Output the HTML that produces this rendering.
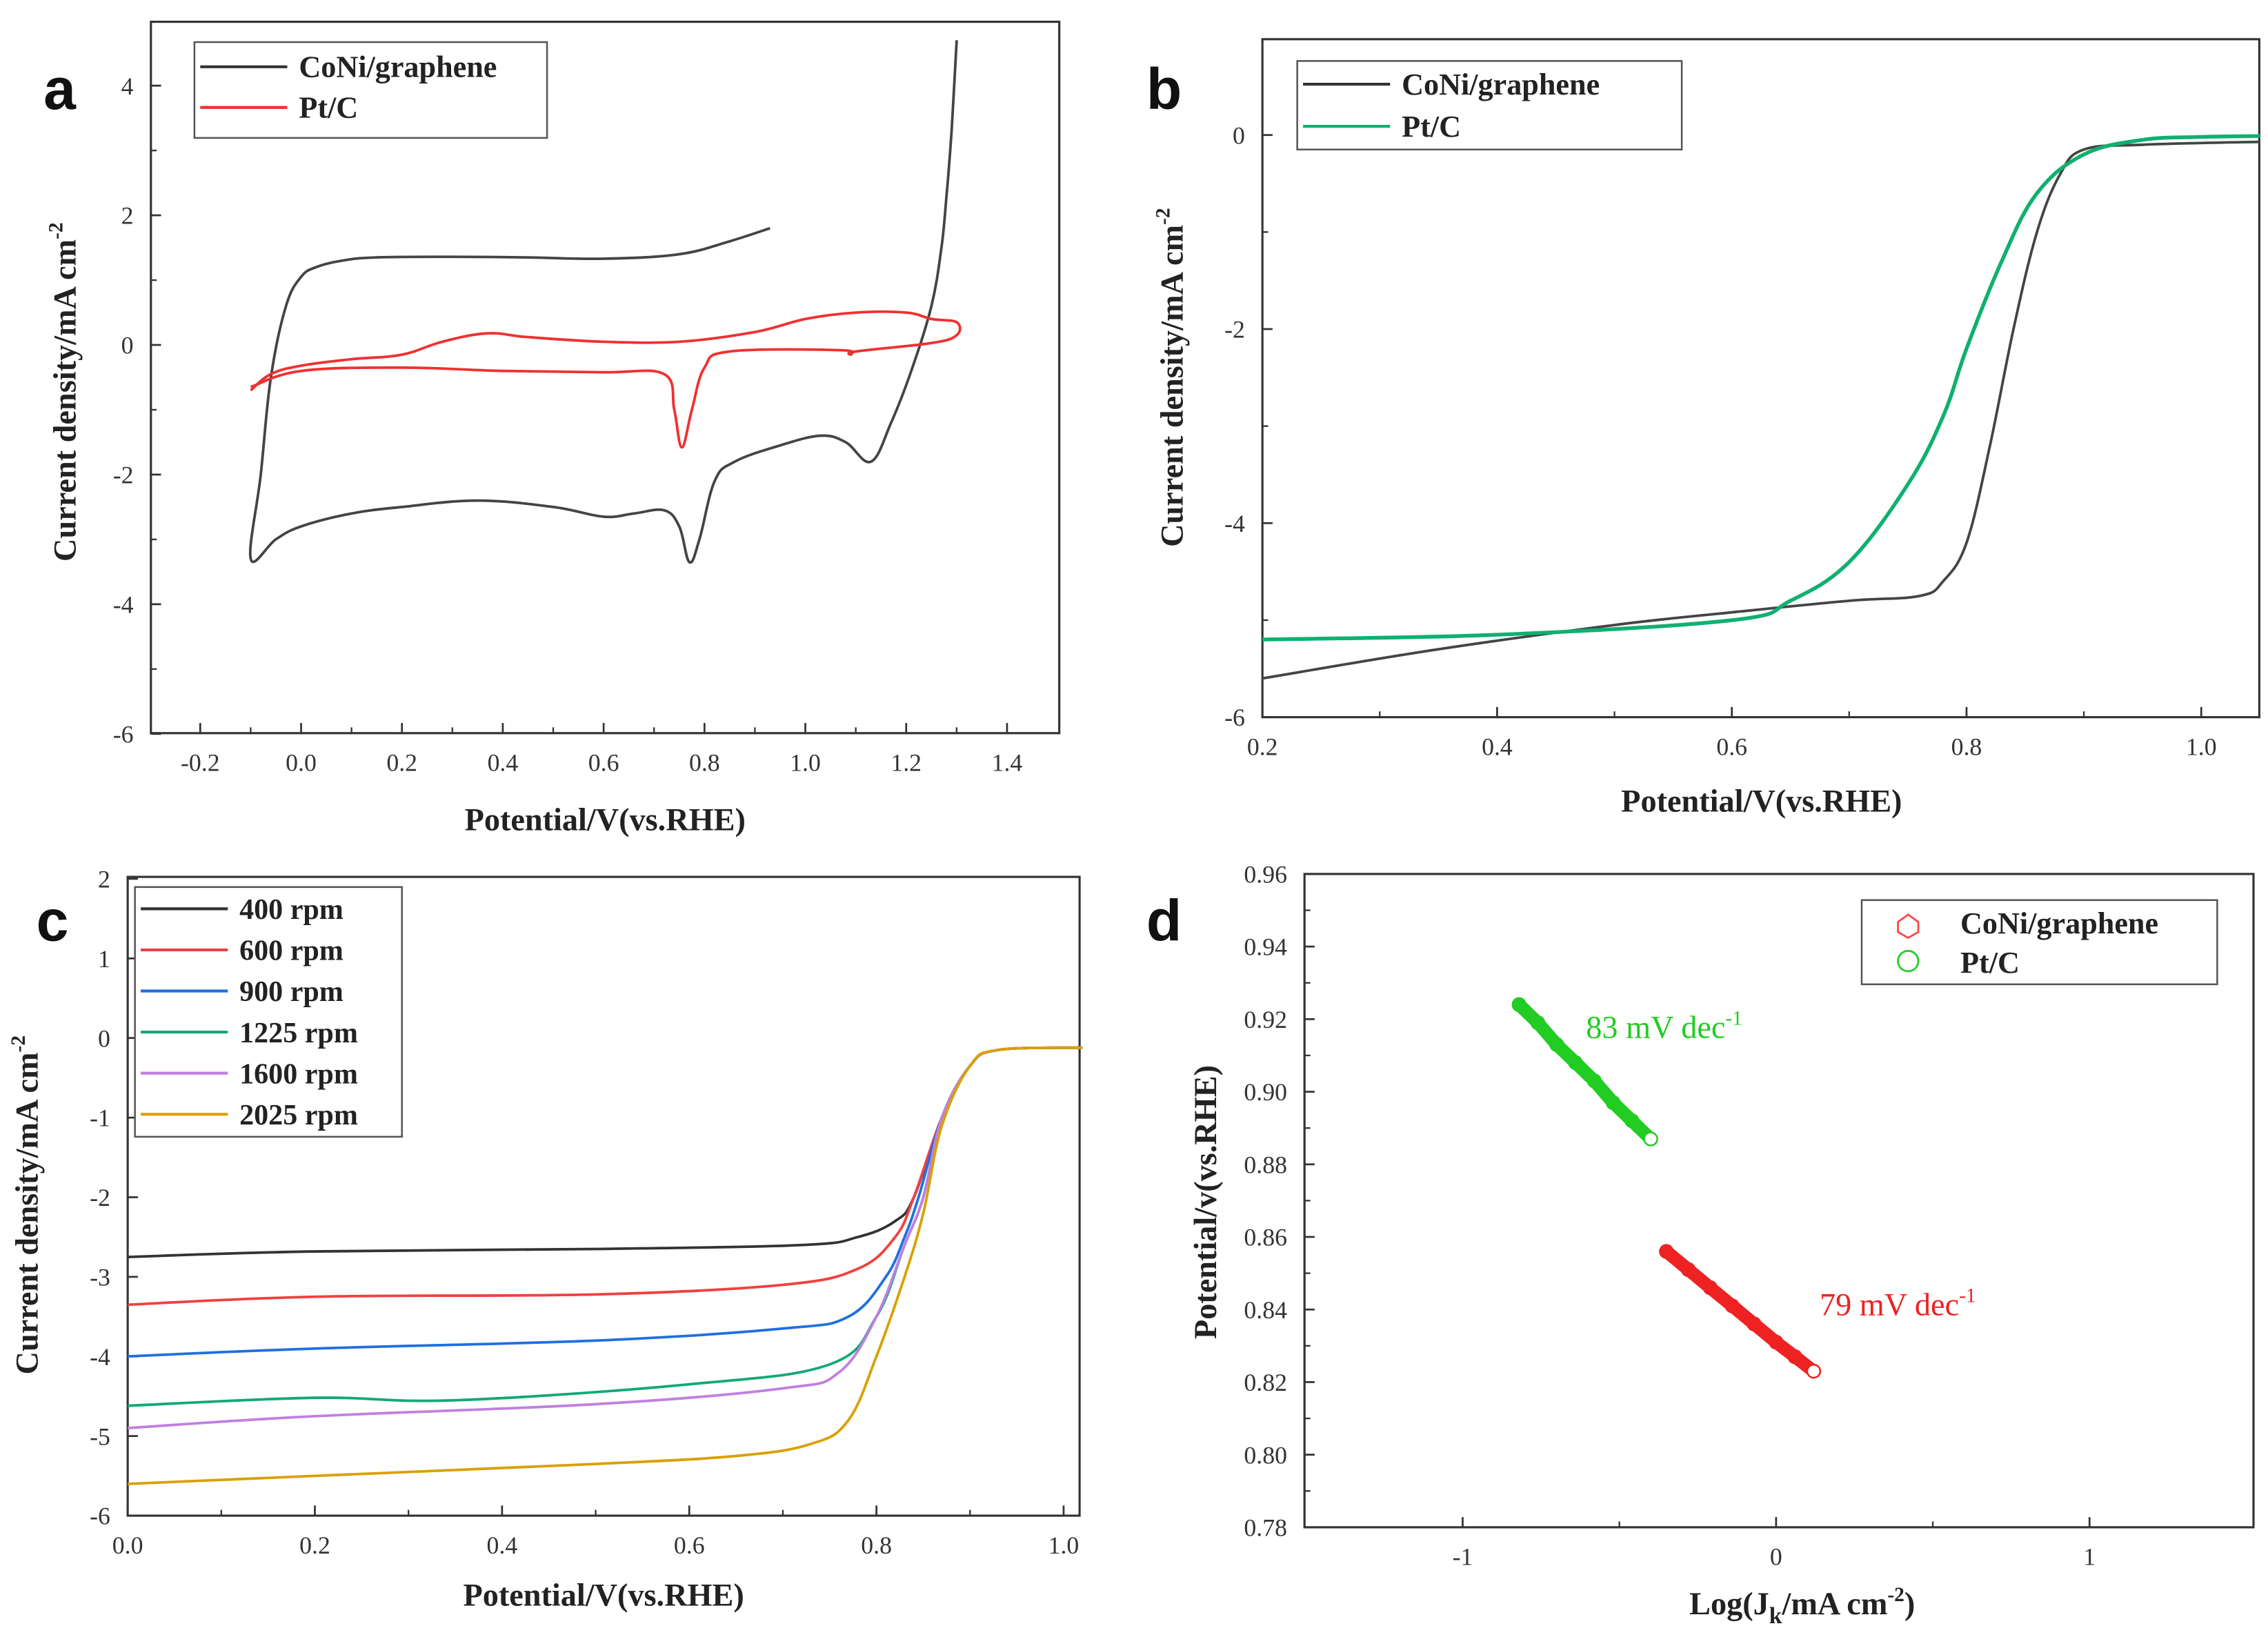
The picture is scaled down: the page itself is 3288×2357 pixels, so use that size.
<!DOCTYPE html>
<html><head><meta charset="utf-8"><style>
html,body{margin:0;padding:0;background:#fff;}
svg{display:block;}
text{font-family:"Liberation Serif",serif;}
</style></head><body>
<svg id="fig" width="3288" height="2357" viewBox="0 0 1563 1120" preserveAspectRatio="none" xmlns="http://www.w3.org/2000/svg"></svg>
<script>
// ---- Panel a data (CV) ----
const aConiX=[0.93,0.85,0.75,0.6,0.45,0.3,0.15,0.08,0.03,0.0,-0.03,-0.06,-0.08,-0.1,-0.05,0.0,0.1,0.2,0.35,0.5,0.6,0.66,0.72,0.75,0.77,0.79,0.82,0.86,0.95,1.03,1.08,1.13,1.17,1.21,1.25,1.27,1.28,1.29,1.3];
const aConiY=[1.8,1.6,1.4,1.33,1.35,1.36,1.35,1.3,1.2,1.05,0.6,-0.5,-2.0,-3.3,-3.0,-2.8,-2.6,-2.5,-2.4,-2.5,-2.65,-2.6,-2.55,-2.8,-3.35,-3.0,-2.1,-1.8,-1.55,-1.4,-1.5,-1.8,-1.2,-0.4,0.6,1.5,2.3,3.3,4.7];
const aPtX=[-0.1,-0.06,0.0,0.1,0.2,0.28,0.37,0.45,0.6,0.75,0.9,1.0,1.1,1.2,1.25,1.3,1.3,1.25,1.1,1.09,1.07,0.85,0.8,0.775,0.755,0.74,0.72,0.6,0.4,0.2,0.0,-0.1];
const aPtY=[-0.7,-0.45,-0.32,-0.22,-0.15,0.05,0.18,0.12,0.05,0.05,0.2,0.4,0.5,0.5,0.4,0.35,0.15,0.03,-0.1,-0.15,-0.08,-0.1,-0.35,-1.0,-1.58,-1.0,-0.45,-0.42,-0.4,-0.35,-0.4,-0.65];
const aXTicks=["-0.2","0.0","0.2","0.4","0.6","0.8","1.0","1.2","1.4"];
const aYTicks=["-6","-4","-2","0","2","4"];
// ---- Panel b data (LSV) ----
const bConiX=[0.2,0.35,0.5,0.6,0.7,0.76,0.78,0.8,0.82,0.84,0.86,0.88,0.9,0.95,1.05];
const bConiY=[-5.6,-5.3,-5.05,-4.92,-4.8,-4.75,-4.6,-4.2,-3.2,-2.0,-1.0,-0.4,-0.15,-0.1,-0.07];
const bPtX=[0.2,0.4,0.6,0.65,0.7,0.75,0.78,0.8,0.83,0.86,0.9,0.95,1.0,1.05];
const bPtY=[-5.2,-5.15,-5.0,-4.8,-4.4,-3.6,-2.9,-2.2,-1.3,-0.6,-0.2,-0.05,-0.02,-0.01];
const bXTicks=["0.2","0.4","0.6","0.8","1.0"];
const bYTicks=["-6","-4","-2","0"];
// ---- Panel c data (rpm) ----
const cLabels=["400 rpm","600 rpm","900 rpm","1225 rpm","1600 rpm","2025 rpm"];
const cX400=[0,0.2,0.5,0.72,0.78,0.82,0.84,0.87,0.9,0.93,1.02];
const cY400=[-2.75,-2.68,-2.65,-2.6,-2.5,-2.3,-2.0,-1.0,-0.35,-0.15,-0.12];
const cX600=[0,0.2,0.5,0.7,0.78,0.82,0.84,0.87,0.9,0.93,1.02];
const cY600=[-3.35,-3.25,-3.22,-3.1,-2.9,-2.5,-2.0,-1.0,-0.35,-0.15,-0.12];
const cX900=[0,0.2,0.5,0.7,0.77,0.81,0.83,0.845,0.87,0.9,0.93,1.02];
const cY900=[-4.0,-3.9,-3.8,-3.65,-3.5,-3.0,-2.5,-2.0,-1.0,-0.35,-0.15,-0.12];
const cX1225=[0,0.2,0.35,0.6,0.75,0.8,0.83,0.85,0.87,0.9,0.93,1.02];
const cY1225=[-4.62,-4.52,-4.55,-4.35,-4.1,-3.5,-2.6,-2.0,-1.0,-0.35,-0.15,-0.12];
const cX1600=[0,0.2,0.5,0.7,0.76,0.8,0.83,0.85,0.87,0.9,0.93,1.02];
const cY1600=[-4.9,-4.75,-4.6,-4.4,-4.2,-3.5,-2.6,-2.0,-1.0,-0.35,-0.15,-0.12];
const cX2025=[0,0.2,0.5,0.65,0.73,0.77,0.8,0.83,0.85,0.87,0.9,0.93,1.02];
const cY2025=[-5.6,-5.5,-5.35,-5.25,-5.1,-4.8,-4.0,-3.0,-2.2,-1.1,-0.35,-0.15,-0.12];
const cXTicks=["0.0","0.2","0.4","0.6","0.8","1.0"];
const cYTicks=["-6","-5","-4","-3","-2","-1","0","1","2"];
// ---- Panel d data (Tafel) ----
const dPtX=[-0.82,-0.76,-0.7,-0.64,-0.58,-0.52,-0.46,-0.4];
const dPtY=[0.924,0.919,0.913,0.908,0.903,0.897,0.892,0.887];
const dConiX=[-0.35,-0.28,-0.21,-0.14,-0.07,0.0,0.06,0.12];
const dConiY=[0.856,0.851,0.846,0.841,0.836,0.831,0.827,0.823];
const dXTicks=["-1","0","1"];
const dYTicks=["0.78","0.80","0.82","0.84","0.86","0.88","0.90","0.92","0.94","0.96"];

const NS="http://www.w3.org/2000/svg";
const svg=document.getElementById('fig');
function el(tag,attrs,parent,txt){const e=document.createElementNS(NS,tag);for(const k in attrs)e.setAttribute(k,attrs[k]);if(txt!==undefined)e.textContent=txt;(parent||svg).appendChild(e);return e;}
function scale(d0,d1,r0,r1){return v=>r0+(v-d0)*(r1-r0)/(d1-d0);}
function pathD(xs,ys,sx,sy){return xs.map((x,i)=>(i?'L':'M')+sx(x).toFixed(1)+','+sy(ys[i]).toFixed(1)).join('');}
function smoothD(xs,ys,sx,sy){
  const P=xs.map((x,i)=>[sx(x),sy(ys[i])]);const k=0.18;
  let d='M'+P[0][0].toFixed(1)+','+P[0][1].toFixed(1);
  for(let i=0;i<P.length-1;i++){const p0=P[Math.max(0,i-1)],p1=P[i],p2=P[i+1],p3=P[Math.min(P.length-1,i+2)];
    const c1=[p1[0]+(p2[0]-p0[0])*k,p1[1]+(p2[1]-p0[1])*k],c2=[p2[0]-(p3[0]-p1[0])*k,p2[1]-(p3[1]-p1[1])*k];
    d+='C'+c1.map(v=>v.toFixed(1)).join(',')+' '+c2.map(v=>v.toFixed(1)).join(',')+' '+p2[0].toFixed(1)+','+p2[1].toFixed(1);}
  return d;}

function axes(g,box,sx,sy,xt,yt,minorX,minorY){
  const r=el('rect',{x:box.l,y:box.t,width:box.r-box.l,height:box.b-box.t,fill:'none',stroke:'#333','stroke-width':1.5},g);
  
  
  xt.forEach(t=>{const x=sx(parseFloat(t));
    el('line',{x1:x,x2:x,y1:box.b,y2:box.b-7,stroke:'#333','stroke-width':1.3},g);
    const tx=el('text',{x:x,y:box.b+26,'text-anchor':'middle','font-size':17,fill:'#333'},g,t);
    
    
  });
  minorX.forEach(v=>{const x=sx(v);el('line',{x1:x,x2:x,y1:box.b,y2:box.b-4,stroke:'#333','stroke-width':1.1},g);});
  yt.forEach(t=>{const y=sy(parseFloat(t));
    el('line',{x1:box.l,x2:box.l+7,y1:y,y2:y,stroke:'#333','stroke-width':1.3},g);
    const tx=el('text',{x:box.l-12,y:y+6,'text-anchor':'end','font-size':17,fill:'#333'},g,t);
    
    
  });
  minorY.forEach(v=>{const y=sy(v);el('line',{x1:box.l,x2:box.l+4,y1:y,y2:y,stroke:'#333','stroke-width':1.1},g);});
}
function title(g,x,y,txt,rot,name){
  const t=el('text',{x:x,y:y,'text-anchor':'middle','font-size':22,'font-weight':'bold',fill:'#222',transform:rot?`rotate(-90 ${x} ${y})`:''},g);
  t.innerHTML=txt;
  
  
}
function letter(x,y,c){const t=el('text',{x:x,y:y,'font-size':40,'font-weight':'bold',fill:'#111',style:'font-family:"Liberation Sans",sans-serif'},svg,c);
  
  }
function series(g,xs,ys,sx,sy,color,name,w){const p=el('path',{d:smoothD(xs,ys,sx,sy),fill:'none',stroke:color,'stroke-width':w||1.8,'stroke-linejoin':'round'},g);
  
  }
function legendBox(g,x,y,w,h){const r=el('rect',{x:x,y:y,width:w,height:h,fill:'#fff',stroke:'#555','stroke-width':1.2},g);
  
  }
function legLine(g,x,y,color,label,fs){el('line',{x1:x,x2:x+60,y1:y,y2:y,stroke:color,'stroke-width':2},g);
  const t=el('text',{x:x+68,y:y+7,'font-size':fs||21,'font-weight':'bold',fill:'#222'},g,label);
  
  }

// Panel a
{const g=el('g',{});
const box={l:104,r:730,t:15,b:505};
const sx=scale(-0.2,1.4,138,694), sy=scale(0,4,237.6,59);
axes(g,box,sx,sy,aXTicks,aYTicks,[-0.1,0.1,0.3,0.5,0.7,0.9,1.1,1.3],[-5,-3,-1,1,3]);
series(g,aConiX,aConiY,sx,sy,'#444','series-coni-graphene');
series(g,aPtX,aPtY,sx,sy,'#f03030','series-pt-c');
legendBox(g,134,29,243,66);legLine(g,138,46,'#333','CoNi/graphene');legLine(g,138,74,'#f03030','Pt/C');
title(g,417,572,'Potential/V(vs.RHE)',false,'x-axis-title');
title(g,52,270,'Current density/mA cm<tspan dy="-9" font-size="14">-2</tspan>',true,'y-axis-title');
}
letter(30,75,'a');
// Panel b
{const g=el('g',{});
const box={l:870,r:1557,t:27,b:494};
const sx=scale(0.2,1.0,870,1517), sy=scale(0,-6,93,494);
axes(g,box,sx,sy,bXTicks,bYTicks,[0.3,0.5,0.7,0.9],[-5,-3,-1]);
series(g,bConiX,bConiY,sx,sy,'#444','series-coni-graphene');
series(g,bPtX,bPtY,sx,sy,'#10b070','series-pt-c',2.6);
legendBox(g,894,42,265,61);legLine(g,898,58,'#333','CoNi/graphene');legLine(g,898,87,'#10b070','Pt/C');
title(g,1214,559,'Potential/V(vs.RHE)',false,'x-axis-title');
title(g,815,260,'Current density/mA cm<tspan dy="-9" font-size="14">-2</tspan>',true,'y-axis-title');
}
letter(790,75,'b');
// Panel c
{const g=el('g',{});
const box={l:88,r:744,t:604,b:1044};
const sx=scale(0,1,88,733), sy=scale(0,-6,715,1044);
axes(g,box,sx,sy,cXTicks,cYTicks,[0.1,0.3,0.5,0.7,0.9],[]);
const cols=['#333','#f04040','#1f6fe0','#12a878','#c080e0','#d9a000'];
const xs=[cX400,cX600,cX900,cX1225,cX1600,cX2025], ys=[cY400,cY600,cY900,cY1225,cY1600,cY2025];
xs.forEach((x,i)=>series(g,x,ys[i],sx,sy,cols[i],'series-'+cLabels[i].replace(' ','-'),1.8));
legendBox(g,93,611,184,172);
cLabels.forEach((l,i)=>{legLine(g,97,626+i*28.3,cols[i],l,20);});
title(g,416,1106,'Potential/V(vs.RHE)',false,'x-axis-title');
title(g,26,830,'Current density/mA cm<tspan dy="-9" font-size="14">-2</tspan>',true,'y-axis-title');
}
letter(25,648,'c');
// Panel d
{const g=el('g',{});
const box={l:899,r:1553,t:602,b:1052};
const sx=scale(0,1,1224,1440), sy=scale(0.78,0.96,1052,602);
axes(g,box,sx,sy,dXTicks,dYTicks,[-0.5,0.5],[0.79,0.81,0.83,0.85,0.87,0.89,0.91,0.93,0.95]);
function scat(xs,ys,color,name){
  const p=el('path',{d:pathD(xs,ys,sx,sy),fill:'none',stroke:color,'stroke-width':9,'stroke-linecap':'round'},g);
  
  
  xs.forEach((x,i)=>{const c=el('circle',{cx:sx(x),cy:sy(ys[i]),r:4.5,fill:i==xs.length-1?'#fff':color,stroke:color,'stroke-width':1.2},g);
    
    });
}
scat(dPtX,dPtY,'#22cc22','pt-c');
scat(dConiX,dConiY,'#ee2222','coni-graphene');
legendBox(g,1283,620,245,58);
const c1=el('polygon',{points:'1308,635 1315,630 1322,635 1322,642 1315,646 1308,642',fill:'none',stroke:'#f44','stroke-width':1.3},g);

const c2=el('circle',{cx:1315,cy:662,r:7,fill:'none',stroke:'#2c2','stroke-width':1.3},g);

let t=el('text',{x:1351,y:643,'font-size':21,'font-weight':'bold',fill:'#222'},g,'CoNi/graphene');
t=el('text',{x:1351,y:670,'font-size':21,'font-weight':'bold',fill:'#222'},g,'Pt/C');
t=el('text',{x:1093,y:715,'font-size':22,fill:'#22cc22'},g);t.innerHTML='83 mV dec<tspan dy="-9" font-size="14">-1</tspan>';
t=el('text',{x:1254,y:906,'font-size':22,fill:'#ee2222'},g);t.innerHTML='79 mV dec<tspan dy="-9" font-size="14">-1</tspan>';
title(g,1242,1112,'Log(J<tspan dy="6" font-size="16">k</tspan><tspan dy="-6">/mA cm</tspan><tspan dy="-9" font-size="14">-2</tspan><tspan dy="9">)</tspan>',false,'x-axis-title');
title(g,838,828,'Potential/v(vs.RHE)',true,'y-axis-title');
}
letter(790,648,'d');
</script>
</body></html>
